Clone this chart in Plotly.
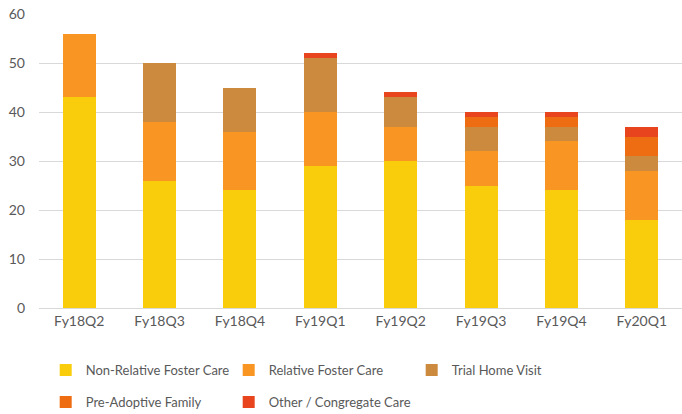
import plotly.graph_objects as go

quarters = ["Fy18Q2", "Fy18Q3", "Fy18Q4", "Fy19Q1", "Fy19Q2", "Fy19Q3", "Fy19Q4", "Fy20Q1"]

non_relative = [43, 26, 24, 29, 30, 25, 24, 18]
relative = [13, 12, 12, 11, 7, 7, 10, 10]
trial_home = [0, 12, 9, 11, 6, 5, 3, 3]
pre_adoptive = [0, 0, 0, 0, 0, 2, 2, 4]
other_congregate = [0, 0, 0, 1, 1, 1, 1, 2]

# (name, values, colour, legend row)
series = [
    ("Non-Relative Foster Care", non_relative, "#F9CD0C", "legend"),
    ("Relative Foster Care", relative, "#F99623", "legend"),
    ("Trial Home Visit", trial_home, "#CC8A3E", "legend"),
    ("Pre-Adoptive Family", pre_adoptive, "#EE6C12", "legend2"),
    ("Other / Congregate Care", other_congregate, "#E8441E", "legend2"),
]

fig = go.Figure()
for name, vals, color, leg in series:
    fig.add_trace(
        go.Bar(
            x=quarters,
            y=vals,
            name=name,
            legend=leg,
            marker=dict(color=color, line=dict(width=0)),
        )
    )

legend_style = dict(
    orientation="h",
    xref="container",
    yref="container",
    x=0.067,
    xanchor="left",
    yanchor="middle",
    entrywidth=138,
    traceorder="normal",
    font=dict(size=13, color="#595959"),
    bgcolor="rgba(0,0,0,0)",
)

fig.update_layout(
    barmode="stack",
    bargap=0.59,
    width=682,
    height=414,
    margin=dict(l=39, r=0, t=14, b=106),
    paper_bgcolor="white",
    plot_bgcolor="white",
    font=dict(family="Lato, Liberation Sans, sans-serif", size=14, color="#595959"),
    legend=dict(legend_style, y=0.106),
    legend2=dict(legend_style, y=0.029),
    showlegend=True,
)
fig.update_yaxes(
    range=[0, 60],
    dtick=10,
    showgrid=True,
    gridcolor="#D9D9D9",
    zeroline=False,
    ticks="",
    ticklabelstandoff=13,
)
fig.update_xaxes(
    showline=True,
    linecolor="#D9D9D9",
    ticks="",
)

fig.write_html(
    "out.html",
    config={"displayModeBar": False},
    post_script="document.body.style.margin='0';",
)
